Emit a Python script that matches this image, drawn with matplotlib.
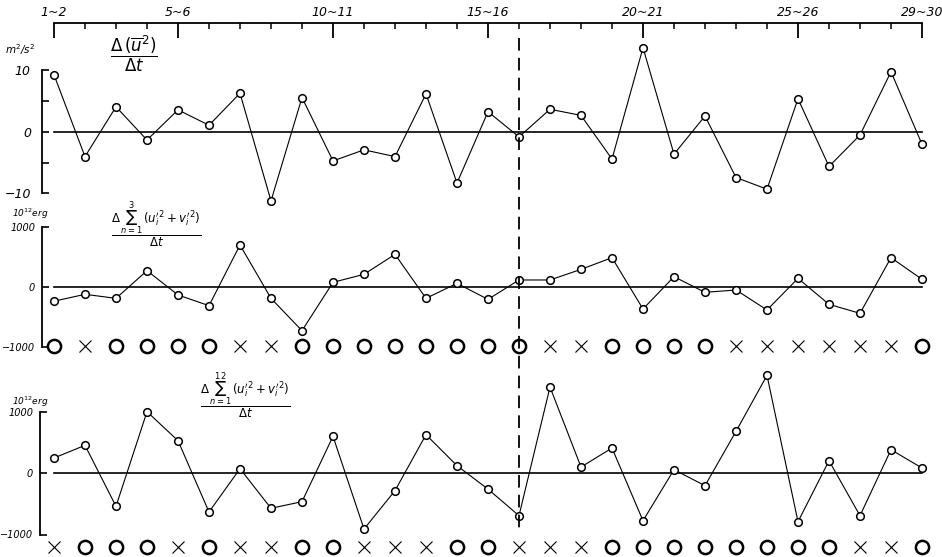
import matplotlib
matplotlib.use('Agg')
import matplotlib.pyplot as plt
import matplotlib.transforms as mtransforms
import numpy as np

# day pairs 1~2 ... 29~30
n_days = 29
top_tick_idx = [0, 4, 9, 14, 19, 24, 28]
top_tick_labels = ['1~2', '5~6', '10~11', '15~16', '20~21', '25~26', '29~30']

# d(u^2)/dt, m^2/s^2
du2 = [9.3, -4.0, 4.1, -1.3, 3.6, 1.1, 6.3, -11.2, 5.6, -4.7, -2.9, -4.0, 6.2, -8.3,
       3.3, -0.8, 3.7, 2.7, -4.4, 13.7, -3.6, 2.6, -7.4, -9.3, 5.4, -5.6, -0.5, 9.8, -2.0]
# d/dt of sum over n=1..3 of (u'^2 + v'^2), 10^12 erg
ke3 = [-237, -122, -189, 272, -133, -311, 700, -189, -728, 78, 211, 544, -189, 61,
       -206, 117, 117, 294, 489, -367, 172, -89, -50, -383, 144, -289, -439, 489, 128]
# same, n=1..12
ke12 = [244, 450, -542, 997, 526, -634, 70, -574, -466, 596, -911, -287, 623, 119,
        -262, -694, 1398, 97, 406, -776, 54, -206, 677, 1587, -792, 200, -694, 379, 81]
# O / X classification rows
flags3 = 'OXOOOOXXOOOOOOOOXXOOOOXXXXXXO'
flags12 = 'XOOOXOXXOOXXXOOXXXOOOOOOOOXXO'
split_idx = 15

W, H = 942, 557
X0, DX = 54, 31.0          # pixel of first day and spacing
SPINE_X = (42 - X0) / DX

fig = plt.figure(figsize=(W / 100, H / 100), dpi=100)
fig.patch.set_facecolor('white')
xlim = ((0 - X0) / DX, (W - X0) / DX)
x = np.arange(n_days)


def band(top, bottom, zero, ppu):
    ax = fig.add_axes([0, 1 - bottom / H, 1, (bottom - top) / H])
    ax.set_xlim(*xlim)
    ax.set_ylim((zero - bottom) / ppu, (zero - top) / ppu)
    ax.patch.set_alpha(0)
    for s in ['top', 'right', 'bottom']:
        ax.spines[s].set_visible(False)
    ax.spines['left'].set_position(('data', SPINE_X))
    ax.spines['left'].set_linewidth(1.3)
    ax.set_xticks([])
    ax.tick_params(axis='y', direction='in', length=5, width=1.2, pad=8)
    return ax


def series(ax, vals):
    ax.plot([0, n_days - 1], [0, 0], color='black', lw=1.2)
    ax.plot(x, vals, color='black', lw=0.8, marker='o', ms=5.5,
            mfc='white', mec='black', mew=1.1, zorder=3)


def flag_row(ax, flags, y):
    for i, f in enumerate(flags):
        if f == 'O':
            ax.plot(i, y, marker='o', ms=9.5, mfc='none', mec='black', mew=1.8,
                    clip_on=False)
        else:
            ax.plot(i, y, marker='x', ms=9, mec='black', mew=0.8, clip_on=False)


def px(xp, yp):
    return xp / W, 1 - yp / H


tfont = dict(fontstyle='italic', fontsize=9)

# top day scale
axt = fig.add_axes([0, 1 - 60 / H, 1, 37 / H])
axt.set_xlim(*xlim)
axt.patch.set_alpha(0)
for s in ['left', 'right', 'bottom']:
    axt.spines[s].set_visible(False)
axt.spines['top'].set_bounds(0, n_days - 1)
axt.spines['top'].set_linewidth(1.3)
axt.set_yticks([])
axt.xaxis.set_ticks_position('top')
axt.set_xticks(top_tick_idx)
axt.set_xticklabels(top_tick_labels, **tfont)
axt.set_xticks(x, minor=True)
axt.tick_params(axis='x', which='major', direction='in', length=11, width=1.3, pad=3)
axt.tick_params(axis='x', which='minor', direction='in', length=4, width=1.1)

# panel 1
ax1 = band(28, 205, 132, 6.15)
ax1.spines['left'].set_bounds(-10, 10)
ax1.set_yticks([-10, -5, 0, 5, 10])
ax1.set_yticklabels(['−10', '', '0', '', '10'], **tfont)
series(ax1, du2)
fig.text(*px(20, 50), r'm$^2$/s$^2$', fontsize=7.5, fontstyle='italic',
         ha='center', va='center')
fig.text(*px(134, 54), r'$\dfrac{\Delta\,(\overline{u}^{2})}{\Delta t}$', fontsize=12,
         ha='center', va='center')

# panel 2
ax2 = band(205, 362, 287, 0.060)
ax2.spines['left'].set_bounds(-1000, 1000)
ax2.set_yticks([-1000, 0, 1000])
ax2.set_yticklabels(['−1000', '0', '1000'], fontstyle='italic', fontsize=7)
ax2.tick_params(axis='y', pad=5)
series(ax2, ke3)
flag_row(ax2, flags3, -990)
fig.text(*px(30, 214), r'10$^{12}$erg', fontsize=6.5, fontstyle='italic',
         ha='center', va='center')
fig.text(*px(156, 225),
         r"$\dfrac{\Delta\,\sum_{n=1}^{3}\,(u_i'^{2}+v_i'^{2})}{\Delta t}$",
         fontsize=8.5, ha='center', va='center')

# panel 3
ax3 = band(362, 557, 473, 0.0615)
ax3.spines['left'].set_position(('data', (40 - X0) / DX))
ax3.spines['left'].set_bounds(-1000, 1000)
ax3.set_yticks([-1000, 0, 1000])
ax3.set_yticklabels(['−1000', '0', '1000'], fontstyle='italic', fontsize=7)
ax3.tick_params(axis='y', pad=5)
series(ax3, ke12)
flag_row(ax3, flags12, -1200)
fig.text(*px(30, 402), r'10$^{12}$erg', fontsize=6.5, fontstyle='italic',
         ha='center', va='center')
fig.text(*px(245, 396),
         r"$\dfrac{\Delta\,\sum_{n=1}^{12}\,(u_i'^{2}+v_i'^{2})}{\Delta t}$",
         fontsize=8.5, ha='center', va='center')

# dashed divider through all panels
trans = mtransforms.blended_transform_factory(ax1.transData, fig.transFigure)
fig.add_artist(plt.Line2D([split_idx, split_idx], [1 - 38 / H, 1 - 530 / H],
                          transform=trans, color='black', lw=1.3,
                          linestyle=(0, (7, 4))))

fig.savefig('out.png', dpi=100, facecolor='white')
